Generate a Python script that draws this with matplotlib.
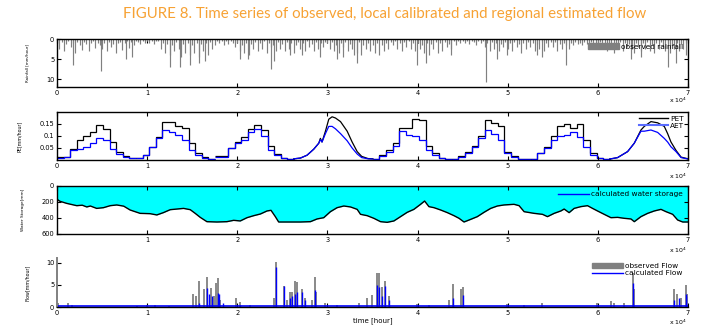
import numpy as np
import matplotlib
matplotlib.use('Agg')
import matplotlib.pyplot as plt
from matplotlib.lines import Line2D
from matplotlib.patches import Patch

# ---------------- data ----------------
xtick_hours = [0, 10000, 20000, 30000, 40000, 50000, 60000, 70000]
xtick_labels = ['0', '1', '2', '3', '4', '5', '6', '7']

# observed rainfall, regular 250 h grid (mm/hour)
rain_hours = np.arange(0, 70000, 250)
rain_mm = [
    1, 2.5, 0.8, 3, 1.2, 0.6, 2, 1, 3.5, 0.8, 1.5, 2.8, 0.7, 1.2, 3, 1, 0.6, 2.2, 1, 1.5,
    2.5, 1, 3, 0.8, 2, 1.2, 3.5, 1, 0.7, 2.8, 1, 0.6, 2.2, 0.8, 1.5, 0.5, 0.8, 1.2, 0.4, 1,
    0.6, 1, 0.4, 1.2, 0.5, 0.6, 2.5, 1, 3.5, 1.2, 4, 1.5, 3, 0.8, 2.5, 4.5, 1.2, 3.5, 1, 4,
    1.5, 3.5, 1, 4.5, 1.2, 3, 1, 4, 0.8, 2.5, 1.5, 0.6, 1, 0.5, 1.5, 0.4, 1.2, 0.6, 1, 2,
    1, 3, 1.5, 3.5, 1, 4, 1.2, 2.5, 0.8, 3, 1, 2.5, 0.6, 3.5, 1, 2, 1.5, 3, 0.8, 2.5,
    1.2, 3, 0.8, 2.5, 1, 3.5, 1.5, 0.8, 2.5, 1, 3, 0.6, 2, 1.2, 3, 0.8, 2.5, 1, 2, 0.8,
    1, 2.5, 0.8, 3, 1.5, 3.5, 1, 2, 0.8, 3, 1.2, 2.5, 1, 3.5, 0.8, 4, 1.5, 2.5, 1, 3,
    1.5, 3.5, 1, 4, 1.5, 3, 1, 2.5, 0.8, 1.5, 0.6, 2.5, 1, 3, 0.8, 2, 0.6, 2.5, 1, 3,
    1, 2.5, 1.5, 3.5, 1, 4, 1.2, 2.5, 0.8, 3.5, 1, 3, 0.8, 2, 1.2, 2.5, 0.6, 1.5, 0.5, 1,
    0.6, 1, 0.5, 1.2, 0.4, 0.8, 1.5, 0.5, 1, 0.6, 2, 1, 3, 0.8, 2.5, 1, 3, 1.2, 2, 0.8,
    2.5, 1, 3, 0.8, 2, 1.2, 3.5, 1, 2.5, 0.8, 2, 1, 3, 1.2, 2.5, 0.8, 3, 1, 2, 0.8,
    2, 0.8, 3, 1.2, 2.5, 1, 1.5, 2.5, 1, 1.5, 0.8, 1.2, 1, 1.5, 0.8, 1.2, 2, 0.8, 1.5, 1,
    2, 0.8, 2.5, 1, 3, 1.2, 2, 3.5, 1, 2.5, 0.8, 3, 1, 2, 1.2, 2.5, 3.5, 1, 2, 3,
    1, 2.5, 0.8, 3, 1.5, 3.5, 1, 2.5, 0.8, 2, 3, 1, 3.5, 1.2, 2.5, 1, 3, 1.2, 2.5, 1,
]
# large rainfall events
rain_peak_hours = [1740, 4850, 7670, 8370, 12560, 13590, 14780, 15780, 16440, 20330,
                   21150, 23740, 24040, 25890, 27190, 29220, 31070, 31740, 32930, 33300,
                   39960, 40890, 43670, 47560, 48850, 49960, 53300, 53850, 56450, 63670,
                   64780, 67740, 68670, 69780]
rain_peak_mm = [6.5, 8, 5, 4.5, 7, 7, 6.5, 6, 5.5, 5,
                5, 7.5, 5.5, 4, 4, 4.5, 5, 4.5, 4, 6,
                6.5, 6, 4, 10.8, 5, 4, 4, 4.5, 6.5, 5,
                4.5, 7, 6, 4]

# evapotranspiration: monthly steps (730 h months) for stepped years
month_hours = 730
step_years = [0, 1, 2, 4, 5, 6]
pet_steps = [
    [0.012, 0.012, 0.045, 0.085, 0.1, 0.115, 0.145, 0.13, 0.075, 0.035, 0.015, 0.01],
    [0.01, 0.02, 0.055, 0.095, 0.16, 0.16, 0.14, 0.135, 0.07, 0.03, 0.012, 0.005],
    [0.015, 0.015, 0.05, 0.075, 0.095, 0.13, 0.145, 0.125, 0.06, 0.025, 0.01, 0.005],
    [0.005, 0.02, 0.04, 0.07, 0.135, 0.135, 0.172, 0.165, 0.06, 0.03, 0.01, 0.005],
    [0.005, 0.015, 0.035, 0.06, 0.1, 0.165, 0.155, 0.14, 0.035, 0.015, 0.005, 0.003],
    [0.003, 0.03, 0.055, 0.1, 0.14, 0.15, 0.135, 0.15, 0.085, 0.03, 0.01, 0.005],
]
aet_steps = [
    [0.008, 0.012, 0.04, 0.045, 0.055, 0.07, 0.093, 0.085, 0.045, 0.025, 0.012, 0.008],
    [0.008, 0.02, 0.055, 0.09, 0.125, 0.115, 0.105, 0.085, 0.04, 0.02, 0.01, 0.004],
    [0.012, 0.012, 0.05, 0.07, 0.085, 0.115, 0.13, 0.1, 0.04, 0.02, 0.008, 0.004],
    [0.004, 0.018, 0.035, 0.06, 0.12, 0.105, 0.1, 0.085, 0.04, 0.02, 0.008, 0.004],
    [0.004, 0.012, 0.03, 0.055, 0.09, 0.125, 0.11, 0.085, 0.03, 0.012, 0.004, 0.003],
    [0.003, 0.028, 0.05, 0.085, 0.1, 0.105, 0.115, 0.095, 0.055, 0.02, 0.008, 0.004],
]
# smooth years
pet4_hours = [26280, 27000, 27740, 28480, 29040, 29220, 29400, 29780, 30150, 30520,
              30890, 31450, 32190, 32740, 33300, 33800, 34500, 35040]
pet4 = [0.005, 0.008, 0.02, 0.045, 0.07, 0.09, 0.075, 0.12, 0.17, 0.18,
        0.175, 0.16, 0.12, 0.075, 0.035, 0.015, 0.006, 0.005]
aet4 = [0.005, 0.008, 0.02, 0.045, 0.07, 0.085, 0.075, 0.11, 0.14, 0.14,
        0.13, 0.11, 0.08, 0.05, 0.025, 0.01, 0.005, 0.004]
pet8_hours = [61320, 62190, 63300, 64040, 64780, 65150, 65890, 66630, 67370, 67740,
              68110, 68670, 69230, 70000]
pet8 = [0.004, 0.01, 0.035, 0.07, 0.125, 0.14, 0.16, 0.155, 0.14, 0.11,
        0.075, 0.04, 0.012, 0.005]
aet8 = [0.004, 0.01, 0.035, 0.07, 0.12, 0.12, 0.125, 0.115, 0.09, 0.075,
        0.055, 0.035, 0.01, 0.004]

# calculated water storage (mm)
stor_hours = [0, 300, 1070, 2190, 2800, 3300, 3700, 4400, 5150, 5900, 6630, 7400, 8110,
              9220, 10330, 11070, 11800, 12560, 13300, 14040, 14780, 15330, 15890,
              16630, 17740, 18850, 19600, 20330, 21080, 21820, 22560, 23300, 23740,
              24220, 24590, 25520, 27000, 28110, 28850, 29590, 30330, 31070, 31820,
              32560, 33300, 33670, 34410, 35150, 35890, 36630, 37370, 38110, 38850,
              39590, 40330, 40780, 41260, 41820, 42560, 43300, 44040, 44600, 45150,
              45890, 46630, 47370, 48110, 48850, 49590, 50700, 51260, 51820, 52930,
              53850, 54410, 55150, 55890, 56260, 56810, 57370, 58110, 58850, 59410,
              59960, 60700, 61450, 62190, 62930, 63670, 64040, 64780, 65520, 66260,
              67000, 67560, 68300, 68850, 69410, 70000]
storage = [165, 190, 217, 246, 240, 262, 250, 280, 271, 246, 237, 252, 300,
           342, 346, 362, 333, 296, 288, 280, 296, 342, 392,
           446, 450, 446, 429, 437, 396, 371, 350, 312, 304,
           383, 450, 450, 450, 446, 412, 396, 321, 271, 250,
           262, 292, 354, 371, 404, 446, 454, 437, 383, 329,
           292, 229, 188, 258, 271, 300, 333, 371, 404, 450,
           417, 383, 329, 280, 250, 237, 229, 246, 321, 342,
           354, 383, 342, 312, 288, 333, 280, 258, 246, 280,
           312, 354, 396, 392, 404, 412, 446, 383, 342, 312,
           292, 321, 354, 425, 450, 450]

# flow (mm/hour)
flow_obs_hours = [100, 1190, 1630, 8850, 9960, 10890, 12370, 15070, 15440, 15740,
                  16260, 16630, 17070, 17370, 17670, 17810, 18110, 19890, 20260, 21450,
                  24040, 24300, 25150, 25520, 25820, 26080, 26410, 26630, 27190, 27560,
                  28300, 28590, 28780, 29780, 31070, 33480, 34410, 34960, 35520, 35740,
                  36070, 36440, 36810, 39960, 41260, 43480, 43930, 44780, 45040, 49960,
                  51820, 53850, 59960, 61450, 61820, 62930, 63850, 63960, 68480, 68780,
                  69230, 69780, 69960]
flow_obs = [0.8, 1.0, 0.5, 0.3, 0.5, 0.5, 0.3, 3.0, 2.6, 6.0,
            4.0, 6.7, 4.2, 2.5, 5.5, 6.5, 1.5, 2.1, 1.2, 0.5,
            2.0, 10.2, 4.8, 1.5, 3.5, 3.3, 6.0, 5.6, 4.0, 2.0,
            1.5, 6.9, 3.5, 1.0, 0.5, 0.8, 2.0, 2.8, 7.6, 7.7,
            4.5, 5.8, 2.5, 0.7, 0.5, 1.5, 5.2, 4.0, 4.5, 0.6,
            0.5, 1.0, 0.8, 1.3, 1.0, 0.8, 7.8, 4.0, 4.1, 3.0,
            2.0, 5.0, 3.0]
flow_calc_hours = [15740, 16630, 16810, 17180, 17810, 17990, 18360, 20330, 24300, 25150,
                   25820, 26080, 26410, 26630, 27190, 27560, 28590, 35520, 35740, 36070,
                   36440, 36810, 43930, 45040, 63850, 68480, 69040, 69780, 69960]
flow_calc = [1.0, 4.3, 3.0, 2.5, 3.2, 3.0, 1.0, 0.5, 9.0, 4.7,
             2.0, 2.5, 3.0, 3.5, 3.3, 1.5, 3.8, 5.0, 4.5, 2.5,
             4.8, 1.5, 2.0, 2.7, 5.5, 1.5, 2.0, 3.0, 2.5]
flow_baseflow = 0.15

# ---------------- figure ----------------
plt.rcParams['font.family'] = ['DejaVu Sans']
fig = plt.figure(figsize=(7.04, 3.27), dpi=100)

L, W = 57 / 704, 631 / 704
def pos(top, bottom):
    return [L, 1 - bottom / 327, W, (bottom - top) / 327]

ax1 = fig.add_axes(pos(39, 87))
ax2 = fig.add_axes(pos(112, 160))
ax3 = fig.add_axes(pos(186, 234))
ax4 = fig.add_axes(pos(258, 307))

gray = '#808080'
tick_fs = 4.8
leg_fs = 5.3
ylab_fs = 3.4

def style(ax, box=True):
    ax.set_xlim(0, 70000)
    ax.set_xticks(xtick_hours)
    ax.set_xticklabels(xtick_labels)
    ax.tick_params(direction='in', length=3, width=0.8, labelsize=tick_fs, pad=2,
                   top=box, right=box)
    for s in ax.spines.values():
        s.set_linewidth(1.0)

fig.text(0.547, 0.958, 'FIGURE 8. Time series of observed, local calibrated and regional estimated flow',
         color='#F7A234', fontsize=10.8, family='Lato', ha='center', va='center')

# panel 1: rainfall
ax1.vlines(rain_hours, 0, rain_mm, color=gray, linewidth=0.85)
ax1.vlines(rain_peak_hours, 0, rain_peak_mm, color=gray, linewidth=0.85)
style(ax1)
ax1.set_ylim(12, 0)
ax1.set_yticks([0, 5, 10])
ax1.set_ylabel('Rainfall [mm/hour]', fontsize=ylab_fs * 0.85)
ax1.yaxis.set_label_coords(-0.043, 0.5)
ax1.legend([Patch(color=gray)], ['observed rainfall'], loc='upper right', frameon=False,
           fontsize=leg_fs, handlelength=4.2, handleheight=0.7, borderaxespad=0.2,
           handletextpad=0.3)

# panel 2: PET / AET
for k, yr in enumerate(step_years):
    edges = (np.arange(13) + 12 * yr) * month_hours
    ax2.stairs(pet_steps[k], edges, color='black', linewidth=0.9, baseline=None)
    ax2.stairs(aet_steps[k], edges, color='blue', linewidth=0.9, baseline=None)
ax2.plot(pet4_hours, pet4, color='black', linewidth=0.9)
ax2.plot(pet4_hours, aet4, color='blue', linewidth=0.9)
ax2.plot(pet8_hours, pet8, color='black', linewidth=0.9)
ax2.plot(pet8_hours, aet8, color='blue', linewidth=0.9)
style(ax2)
ax2.set_ylim(0, 0.2)
ax2.set_yticks([0.05, 0.1, 0.15])
ax2.set_yticklabels(['0.05', '0.1', '0.15'])
ax2.set_ylabel('PE[mm/hour]', fontsize=ylab_fs)
ax2.yaxis.set_label_coords(-0.055, 0.5)
ax2.legend([Line2D([], [], color='black', lw=1), Line2D([], [], color='#5a6cff', lw=1.5)],
           ['PET', 'AET'], loc='upper right', frameon=False, fontsize=leg_fs,
           handlelength=4.0, borderaxespad=0.1, labelspacing=0.1, handletextpad=0.3)

# panel 3: storage
ax3.fill_between(stor_hours, 0, storage, color='#00FFFF', linewidth=0)
ax3.plot(stor_hours, storage, color='black', linewidth=1.0)
style(ax3)
ax3.set_ylim(600, 0)
ax3.set_yticks([0, 200, 400, 600])
ax3.set_xticklabels([''] + xtick_labels[1:])
ax3.set_ylabel('Water Storage[mm]', fontsize=ylab_fs * 0.9)
ax3.yaxis.set_label_coords(-0.051, 0.5)
ax3.legend([Line2D([], [], color='blue', lw=1)], ['calculated water storage'],
           loc='upper right', frameon=False, fontsize=leg_fs, handlelength=4.2,
           borderaxespad=0.3, handletextpad=0.3)

# panel 4: flow
ax4.vlines(flow_obs_hours, 0, flow_obs, color=gray, linewidth=1.3)
ax4.vlines(flow_calc_hours, 0, flow_calc, color='blue', linewidth=1.0)
ax4.axhline(flow_baseflow, color='blue', linewidth=1.2)
style(ax4, box=False)
ax4.spines['top'].set_visible(False)
ax4.spines['right'].set_visible(False)
ax4.spines['left'].set_color(gray)
ax4.spines['left'].set_linewidth(1.4)
ax4.set_ylim(0, 11.1)
ax4.set_yticks([0, 5, 10])
ax4.set_ylabel('Flow[mm/hour]', fontsize=ylab_fs)
ax4.yaxis.set_label_coords(-0.043, 0.5)
ax4.set_xlabel('time [hour]', fontsize=5, labelpad=1)
ax4.legend([Patch(color=gray), Line2D([], [], color='blue', lw=1)],
           ['observed Flow', 'calculated Flow'], loc='upper right', frameon=False,
           fontsize=leg_fs, handlelength=4.2, handleheight=0.7, borderaxespad=0.3,
           labelspacing=0.1, handletextpad=0.3)

for ax, dy in [(ax1, -0.27), (ax2, -0.35), (ax3, -0.35), (ax4, -0.31)]:
    ax.text(0.985, dy, r'x 10$^4$', transform=ax.transAxes, fontsize=4.5,
            ha='center', va='center')

fig.savefig('out.png', dpi=100)
